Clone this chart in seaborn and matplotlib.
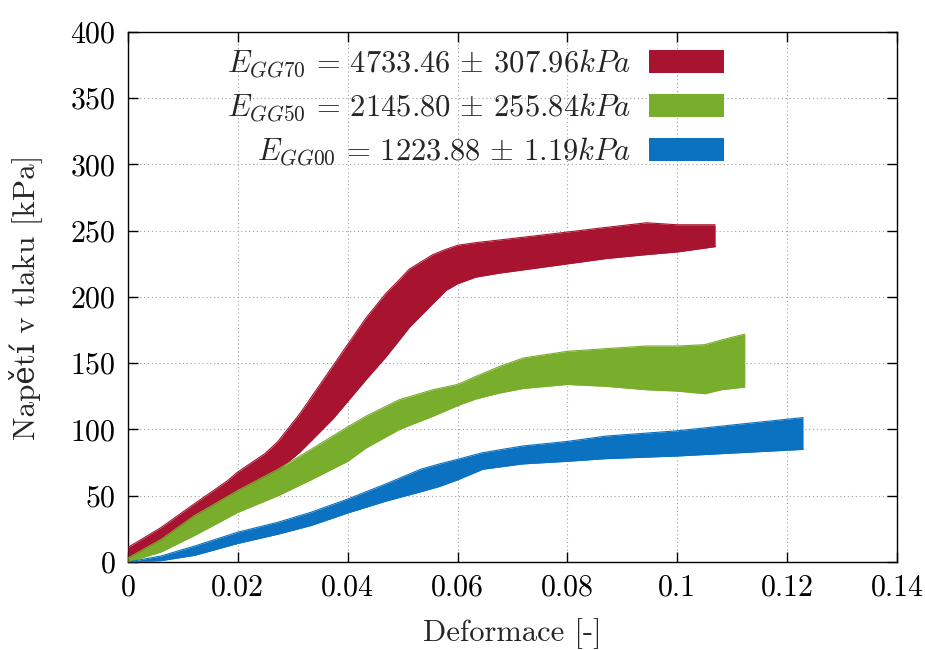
import matplotlib
matplotlib.use("Agg")
import matplotlib.pyplot as plt
from matplotlib.patches import Patch
import seaborn as sns
import pandas as pd

# Stress-strain envelopes (lower / upper bound of measured curves)
x_gg70 = [0, 0.006, 0.0121, 0.018, 0.02, 0.025, 0.0273, 0.0313, 0.0373, 0.0433,
          0.047, 0.0494, 0.0512, 0.0555, 0.0579, 0.06, 0.0633, 0.0676, 0.08,
          0.087, 0.0944, 0.1, 0.1069]
up_gg70 = [11, 26, 44, 61, 68, 82, 91, 112, 148, 184,
           203, 213, 221, 232, 236, 239, 241, 243, 249,
           252.5, 256, 254.5, 254.5]
lo_gg70 = [0, 14, 30, 46, 51, 63, 69, 83, 108, 137.5,
           155, 167.5, 177, 195, 205, 210, 215, 218, 225,
           229, 232, 234, 238]

x_gg50 = [0, 0.006, 0.0121, 0.02, 0.0273, 0.0333, 0.04, 0.0433, 0.0494, 0.0555,
          0.06, 0.0633, 0.0676, 0.072, 0.08, 0.087, 0.0944, 0.1, 0.105, 0.108,
          0.1123]
up_gg50 = [3, 17, 35, 54, 70, 85, 102, 110, 122.5, 130,
           134, 140, 147.5, 154, 159, 161, 163, 163, 164, 167.5,
           172]
lo_gg50 = [0, 7.5, 20, 37.5, 50, 62, 76, 86, 100, 110,
           118, 123, 127.5, 131, 134, 132.6, 130, 129, 127, 130,
           132]

x_gg00 = [0, 0.006, 0.0121, 0.02, 0.0273, 0.0333, 0.04, 0.047, 0.0533, 0.0567,
          0.06, 0.0646, 0.0718, 0.08, 0.087, 0.1, 0.1114, 0.1229]
up_gg00 = [0, 4.5, 12, 22.5, 30, 37.5, 47.5, 59, 70, 74,
           77.5, 82.5, 87.5, 91, 95, 99, 104, 109]
lo_gg00 = [0, 1, 5, 14, 21, 27.5, 37, 46, 53, 57,
           62, 70, 74, 76, 78, 80, 82.5, 85]

labels = [r"$E_{GG70} \,=\, 4733.46 \,\pm\, 307.96 kPa$",
          r"$E_{GG50} \,=\, 2145.80 \,\pm\, 255.84 kPa$",
          r"$E_{GG00} \,=\, 1223.88 \,\pm\, 1.19 kPa$"]
colors = ["#a8142f", "#79ad2c", "#0a72c0"]

x_ticks = [0, 0.02, 0.04, 0.06, 0.08, 0.1, 0.12, 0.14]
x_ticklabels = ["0", "0.02", "0.04", "0.06", "0.08", "0.1", "0.12", "0.14"]
y_ticks = [0, 50, 100, 150, 200, 250, 300, 350, 400]

sns.set_style("ticks")
plt.rcParams["font.family"] = ["cmr10", "DejaVu Serif"]
plt.rcParams["mathtext.fontset"] = "cm"
plt.rcParams["axes.formatter.use_mathtext"] = True

fig = plt.figure(figsize=(9.25, 6.5), dpi=100)
ax = fig.add_axes([0.1384, 0.1354, 0.8313, 0.8154])

series = [(x_gg70, lo_gg70, up_gg70), (x_gg50, lo_gg50, up_gg50),
          (x_gg00, lo_gg00, up_gg00)]
for (xs, lo, up), c in zip(series, colors):
    ax.fill_between(xs, lo, up, color=c, lw=0, zorder=3)
    df = pd.DataFrame({"x": xs + xs, "y": lo + up,
                       "edge": ["lo"] * len(xs) + ["up"] * len(xs)})
    sns.lineplot(data=df, x="x", y="y", units="edge", estimator=None,
                 color=c, lw=0.8, ax=ax, zorder=3)

ax.set_xlim(0, 0.14)
ax.set_ylim(0, 400)
ax.set_xticks(x_ticks)
ax.set_xticklabels(x_ticklabels)
ax.set_yticks(y_ticks)
ax.tick_params(direction="in", length=7, width=1, top=True, right=True,
               labelsize=21.5, pad=9, colors="black")
for s in ax.spines.values():
    s.set_color("black")
    s.set_linewidth(1.0)
ax.grid(True, ls=(0, (1, 2.5)), color="#a0a0a0", lw=0.8, zorder=1)
ax.set_axisbelow(True)

ax.set_xlabel("Deformace [-]", fontsize=22, labelpad=12)
ax.set_ylabel("Napětí v tlaku [kPa]", fontsize=22.5, labelpad=20)

handles = [Patch(facecolor=c, edgecolor="none") for c in colors]
ax.legend(handles, labels, loc="upper right", bbox_to_anchor=(0.803, 1.012),
          frameon=False, markerfirst=False, fontsize=22,
          handlelength=2.45, handleheight=0.78, labelspacing=0.38,
          handletextpad=0.6, borderpad=0.2)

fig.savefig("out.png", dpi=100, facecolor="white")
